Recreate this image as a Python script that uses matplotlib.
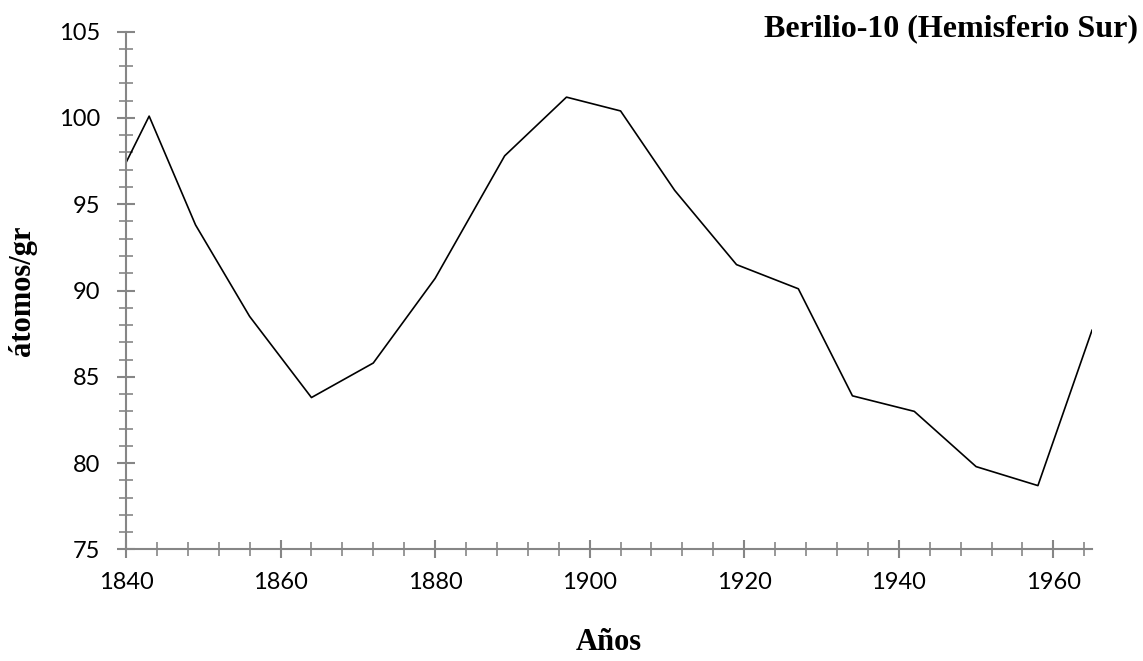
import matplotlib.pyplot as plt
from matplotlib.ticker import MultipleLocator

# Berilio-10 (Hemisferio Sur)
years = [1840, 1843, 1849, 1856, 1864, 1872, 1880, 1889, 1897, 1904,
         1911, 1919, 1927, 1934, 1942, 1950, 1958, 1965]
atoms = [97.4, 100.1, 93.8, 88.5, 83.8, 85.8, 90.7, 97.8, 101.2, 100.4,
         95.8, 91.5, 90.1, 83.9, 83.0, 79.8, 78.7, 87.7]

axis_gray = '#868686'

fig = plt.figure(figsize=(11.43, 6.61), dpi=100)
ax = fig.add_axes([0.1102, 0.1687, 0.8452, 0.7836])

ax.plot(years, atoms, color='black', linewidth=1.2)

ax.set_xlim(1840, 1965)
ax.set_ylim(75, 105)
ax.xaxis.set_major_locator(MultipleLocator(20))
ax.xaxis.set_minor_locator(MultipleLocator(4))
ax.yaxis.set_major_locator(MultipleLocator(5))
ax.yaxis.set_minor_locator(MultipleLocator(1))

for side in ['top', 'right']:
    ax.spines[side].set_visible(False)
for side in ['left', 'bottom']:
    ax.spines[side].set_color(axis_gray)
    ax.spines[side].set_linewidth(1.5)

ax.tick_params(which='major', direction='inout', length=13, width=1.5,
               color=axis_gray, labelsize=17)
ax.tick_params(axis='x', which='major', pad=10)
ax.tick_params(axis='y', which='major', pad=12)
ax.tick_params(which='minor', direction='inout', length=10, width=1.2,
               color=axis_gray)
for lbl in ax.get_xticklabels() + ax.get_yticklabels():
    lbl.set_family('Lato')

ax.set_xlabel('Años', fontsize=22, fontweight='bold',
              family='Liberation Serif', labelpad=25)
ax.set_ylabel('átomos/gr', fontsize=22, fontweight='bold',
              family='Liberation Serif', labelpad=16)
fig.text(0.996, 0.945, 'Berilio-10 (Hemisferio Sur)', ha='right', va='baseline',
         fontsize=23, fontweight='bold', family='Liberation Serif')

fig.savefig('out.png', dpi=100)
